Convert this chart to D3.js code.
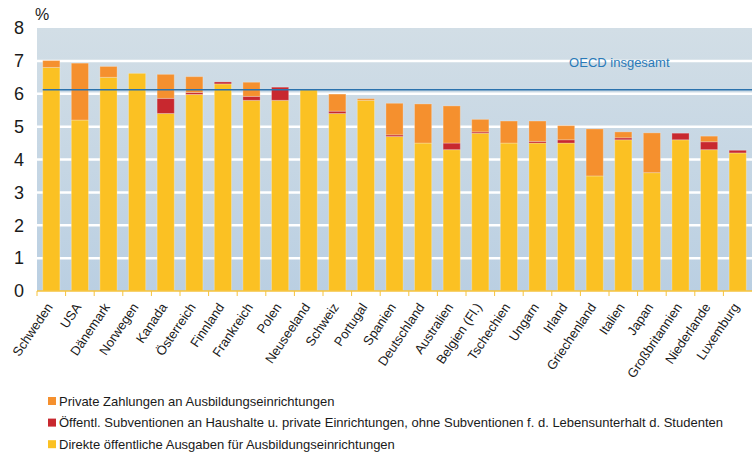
<!DOCTYPE html>
<html>
<head>
<meta charset="utf-8">
<script src="https://cdn.jsdelivr.net/npm/d3@7"></script>
<style>
  body { margin: 0; background: #fff; }
  svg { font-family: "Liberation Sans", Arial, sans-serif; display: block; }
</style>
</head>
<body>
<div id="chart"></div>
<script>
// countries, left to right
const countries = ['Schweden', 'USA', 'Dänemark', 'Norwegen', 'Kanada', 'Österreich', 'Finnland',
  'Frankreich', 'Polen', 'Neuseeland', 'Schweiz', 'Portugal', 'Spanien', 'Deutschland', 'Australien',
  'Belgien (Fl.)', 'Tschechien', 'Ungarn', 'Irland', 'Griechenland', 'Italien', 'Japan',
  'Großbritannien', 'Niederlande', 'Luxemburg'];

// % of GDP
const direct = [6.8, 5.2, 6.5, 6.62, 5.4, 5.98, 6.3, 5.8, 5.8, 6.12, 5.4, 5.8, 4.7, 4.5, 4.3,
  4.8, 4.5, 4.5, 4.5, 3.5, 4.6, 3.6, 4.6, 4.3, 4.2];
const subsidies = [0, 0, 0, 0, 0.46, 0.06, 0.06, 0.12, 0.4, 0, 0.07, 0, 0.05, 0, 0.2,
  0.04, 0, 0.05, 0.1, 0, 0.06, 0, 0.2, 0.24, 0.08];
const privat = [0.21, 1.73, 0.33, 0, 0.73, 0.48, 0, 0.43, 0, 0, 0.52, 0.05, 0.96, 1.19, 1.13,
  0.38, 0.67, 0.62, 0.43, 1.43, 0.18, 1.21, 0, 0.17, 0];

const oecdAverage = 6.12;
const yTicks = [0, 1, 2, 3, 4, 5, 6, 7, 8];

const seriesKeys = ['direct', 'subsidies', 'privat'];
const seriesLabels = {
  privat: 'Private Zahlungen an Ausbildungseinrichtungen',
  subsidies: 'Öffentl. Subventionen an Haushalte u. private Einrichtungen, ohne Subventionen f. d. Lebensunterhalt d. Studenten',
  direct: 'Direkte öffentliche Ausgaben für Ausbildungseinrichtungen'
};
const colors = { direct: '#fbc123', subsidies: '#c8282f', privat: '#f5902e' };

const width = 752, height = 455;
const margin = { top: 28, right: 0, bottom: 164, left: 37 };
const innerW = width - margin.left - margin.right;
const innerH = height - margin.top - margin.bottom;

const rows = countries.map((c, i) => ({ country: c, direct: direct[i], subsidies: subsidies[i], privat: privat[i] }));
const stacked = d3.stack().keys(seriesKeys)(rows);

const svg = d3.select('#chart').append('svg')
  .attr('width', width)
  .attr('height', height);

const x = d3.scaleBand().domain(countries).range([0, innerW]).paddingInner(0.4).paddingOuter(0.2);
const y = d3.scaleLinear().domain([0, 8]).range([innerH, 0]);

const defs = svg.append('defs');
const grad = defs.append('linearGradient').attr('id', 'bg').attr('x1', 0).attr('y1', 0).attr('x2', 0).attr('y2', 1);
grad.append('stop').attr('offset', '0%').attr('stop-color', '#d2dee6');
grad.append('stop').attr('offset', '100%').attr('stop-color', '#bacfe2');

const g = svg.append('g').attr('transform', `translate(${margin.left},${margin.top})`);

g.append('rect')
  .attr('width', innerW)
  .attr('height', innerH)
  .attr('fill', 'url(#bg)');

// white gridlines
g.append('g')
  .selectAll('line')
  .data(yTicks.filter(t => t > 0 && t < 8))
  .join('line')
  .attr('x1', 0).attr('x2', innerW)
  .attr('y1', d => y(d)).attr('y2', d => y(d))
  .attr('stroke', '#fff')
  .attr('stroke-width', 2.5);

// bars
g.append('g')
  .selectAll('g')
  .data(stacked)
  .join('g')
  .attr('fill', d => colors[d.key])
  .selectAll('rect')
  .data(d => d.filter(s => s[1] - s[0] > 0))
  .join('rect')
  .attr('x', d => x(d.data.country))
  .attr('width', x.bandwidth())
  .attr('y', d => y(d[1]))
  .attr('height', d => y(d[0]) - y(d[1]))
  .attr('stroke', '#fff')
  .attr('stroke-opacity', 0.25)
  .attr('stroke-width', 1);

// OECD average line
const firstBar = x(countries[0]);
g.append('line')
  .attr('x1', firstBar).attr('x2', innerW)
  .attr('y1', y(oecdAverage)).attr('y2', y(oecdAverage))
  .attr('stroke', '#2b72ad')
  .attr('stroke-width', 1.5);

g.append('text')
  .attr('x', x('Griechenland') - 17)
  .attr('y', y(oecdAverage) - 23)
  .attr('fill', '#2a7ab8')
  .attr('font-size', 13)
  .text('OECD insgesamt');

// y axis
const yAxis = g.append('g')
  .call(d3.axisLeft(y).tickValues(yTicks).tickSize(0).tickPadding(13));
yAxis.select('.domain').remove();
yAxis.selectAll('text')
  .attr('font-size', 18)
  .attr('fill', '#1a1a1a')
  .attr('font-family', '"Liberation Sans", Arial, sans-serif');

svg.append('text')
  .attr('x', 35)
  .attr('y', 20)
  .attr('font-size', 16)
  .attr('fill', '#1a1a1a')
  .text('%');

// x axis: yellow baseline, ticks at band boundaries
const xAxis = g.append('g').attr('transform', `translate(0,${innerH})`);
xAxis.append('line')
  .attr('x1', 0).attr('x2', innerW)
  .attr('stroke', '#f6c33c')
  .attr('stroke-width', 1.5);
const step = x.step();
xAxis.selectAll('line.tick')
  .data(countries)
  .join('line')
  .attr('class', 'tick')
  .attr('x1', d => x(d) - x.paddingInner() * step / 2)
  .attr('x2', d => x(d) - x.paddingInner() * step / 2)
  .attr('y1', 0).attr('y2', 5)
  .attr('stroke', '#f6c33c')
  .attr('stroke-width', 1);

xAxis.selectAll('text')
  .data(countries)
  .join('text')
  .attr('transform', d => `translate(${x(d) + x.bandwidth() / 2 + 2},${16}) rotate(-56)`)
  .attr('text-anchor', 'end')
  .attr('font-size', 13)
  .attr('fill', '#1a1a1a')
  .text(d => d);

// legend
const legendOrder = ['privat', 'subsidies', 'direct'];
const legend = svg.append('g').attr('transform', 'translate(48,401)');
const item = legend.selectAll('g')
  .data(legendOrder)
  .join('g')
  .attr('transform', (d, i) => `translate(0,${i * 21.6})`);
item.append('rect')
  .attr('x', 0).attr('y', -4)
  .attr('width', 8).attr('height', 8)
  .attr('fill', d => colors[d]);
item.append('text')
  .attr('x', 11)
  .attr('y', 4.5)
  .attr('font-size', 13)
  .attr('fill', '#1a1a1a')
  .text(d => seriesLabels[d]);
</script>
</body>
</html>
